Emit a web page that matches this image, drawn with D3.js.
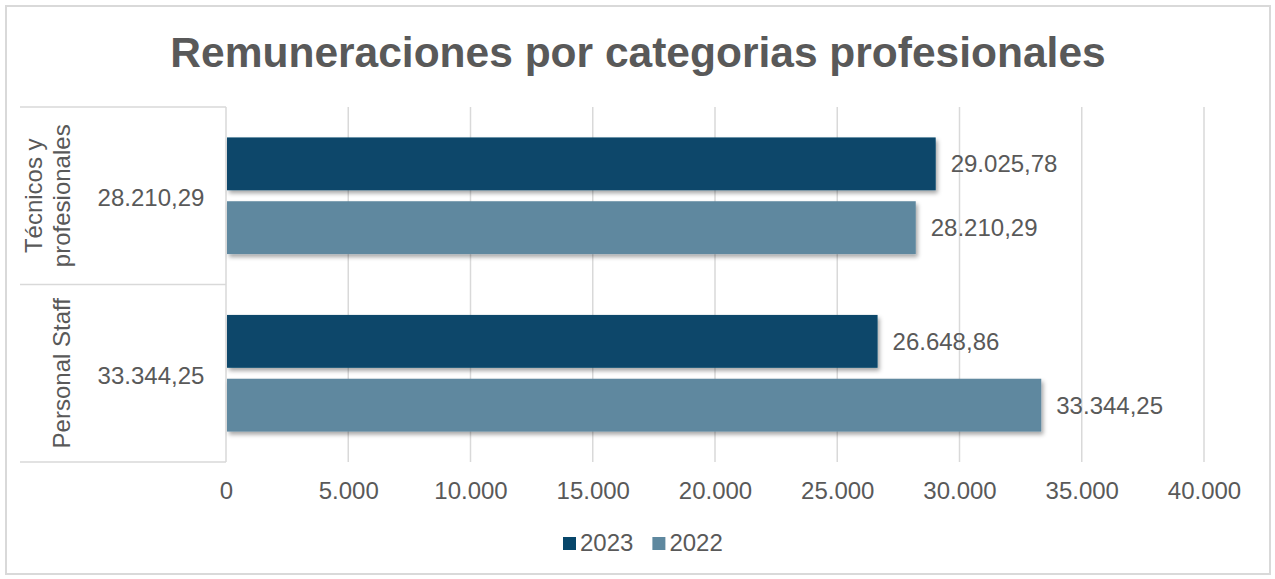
<!DOCTYPE html>
<html><head><meta charset="utf-8">
<script src="https://cdn.jsdelivr.net/npm/d3@7"></script>
<style>
body{margin:0;background:#fff;}
svg text{font-family:"Liberation Sans",Arial,sans-serif;fill:#595959;}
</style></head>
<body>
<svg id="c" width="1275" height="579"></svg>
<script>
const title = "Remuneraciones por categorias profesionales";
const categories = ["Técnicos y profesionales", "Personal Staff"];
const categoryLines = [["Técnicos y", "profesionales"], ["Personal Staff"]];
const subLabels = ["28.210,29", "33.344,25"];
const series = ["2023", "2022"];
const values2023 = [29025.78, 26648.86];
const values2022 = [28210.29, 33344.25];
const xTicks = [0, 5000, 10000, 15000, 20000, 25000, 30000, 35000, 40000];
const colors = ["#07466a", "#5e889f"];

const locale = d3.formatLocale({decimal: ",", thousands: ".", grouping: [3], currency: ["", " €"]});
const fmtTick = locale.format(",.0f");
const fmtVal = locale.format(",.2f");

const svg = d3.select("#c");

// outer border
svg.append("rect").attr("x", 6).attr("y", 6).attr("width", 1264).attr("height", 568)
  .attr("fill", "#fff").attr("stroke", "#d9d9d9").attr("stroke-width", 2);

const defs = svg.append("defs");
const f = defs.append("filter").attr("id", "sh").attr("x", "-5%").attr("y", "-20%").attr("width", "115%").attr("height", "150%");
f.append("feDropShadow").attr("dx", 2).attr("dy", 3).attr("stdDeviation", 2)
  .attr("flood-color", "#000").attr("flood-opacity", 0.35);

// title
svg.append("text").attr("x", 638).attr("y", 67).attr("text-anchor", "middle")
  .attr("font-size", 42.5).attr("font-weight", "bold").style("fill", "#595959").text(title);

const x = d3.scaleLinear().domain([0, 40000]).range([226, 1204]);
const y = d3.scaleBand().domain(categories).range([107, 462]).padding(0);
const yInner = d3.scaleBand().domain(series).range([0, y.bandwidth()])
  .paddingInner(11 / 64).paddingOuter(0.477);

// gridlines
svg.append("g").selectAll("line").data(xTicks.slice(1)).join("line")
  .attr("x1", d => x(d)).attr("x2", d => x(d)).attr("y1", 107).attr("y2", 462)
  .attr("stroke", "#d9d9d9").attr("stroke-width", 1.5);

// category axis structure
const ax = svg.append("g").attr("stroke", "#d9d9d9").attr("stroke-width", 1.5);
ax.append("line").attr("x1", x(0)).attr("x2", x(0)).attr("y1", 107).attr("y2", 462);
const bounds = [107, ...categories.map(c => y(c) + y.bandwidth())];
ax.selectAll("line.h").data(bounds).join("line").attr("class", "h")
  .attr("x1", 20).attr("x2", x(0)).attr("y1", d => d).attr("y2", d => d);

// category labels (rotated)
categories.forEach((c, i) => {
  const cy = y(c) + y.bandwidth() / 2;
  const lines = categoryLines[i];
  const lh = 28;
  const g = svg.append("g").attr("transform", `translate(70,${cy}) rotate(-90)`);
  lines.forEach((l, j) => {
    const off = (j - (lines.length - 1)) * lh;
    g.append("text").attr("x", 0).attr("y", off)
      .attr("text-anchor", "middle").attr("font-size", 24).text(l);
  });
  svg.append("text").attr("x", 151).attr("y", cy + 2).attr("dy", "0.35em")
    .attr("text-anchor", "middle").attr("font-size", 24).text(subLabels[i]);
});

// bars
const data = [];
categories.forEach((c, i) => {
  data.push({cat: c, s: "2023", v: values2023[i], col: colors[0]});
  data.push({cat: c, s: "2022", v: values2022[i], col: colors[1]});
});
svg.append("g").selectAll("rect").data(data).join("rect")
  .attr("x", x(0) + 1).attr("y", d => y(d.cat) + yInner(d.s))
  .attr("width", d => x(d.v) - x(0) - 1).attr("height", yInner.bandwidth())
  .attr("fill", d => d.col).attr("filter", "url(#sh)");

svg.append("g").selectAll("text").data(data).join("text")
  .attr("x", d => x(d.v) + 15).attr("y", d => y(d.cat) + yInner(d.s) + yInner.bandwidth() / 2)
  .attr("dy", "0.35em").attr("font-size", 24).text(d => fmtVal(d.v));

// x axis labels
const xa = svg.append("g").attr("transform", "translate(0,462)")
  .call(d3.axisBottom(x).tickValues(xTicks).tickFormat(fmtTick).tickSize(0).tickPadding(20));
xa.select(".domain").remove();
xa.selectAll("text").attr("font-size", 24).style("fill", "#595959")
  .attr("font-family", "Liberation Sans, Arial, sans-serif").attr("dy", "0.71em");

// legend
const lg = svg.append("g");
let lx = 563;
series.forEach((s, i) => {
  lg.append("rect").attr("x", lx).attr("y", 537).attr("width", 13).attr("height", 13).attr("fill", colors[i]);
  const t = lg.append("text").attr("x", lx + 17).attr("y", 551).attr("font-size", 24).text(s);
  lx += 17 + t.node().getComputedTextLength() + 19;
});
</script>
</body></html>
